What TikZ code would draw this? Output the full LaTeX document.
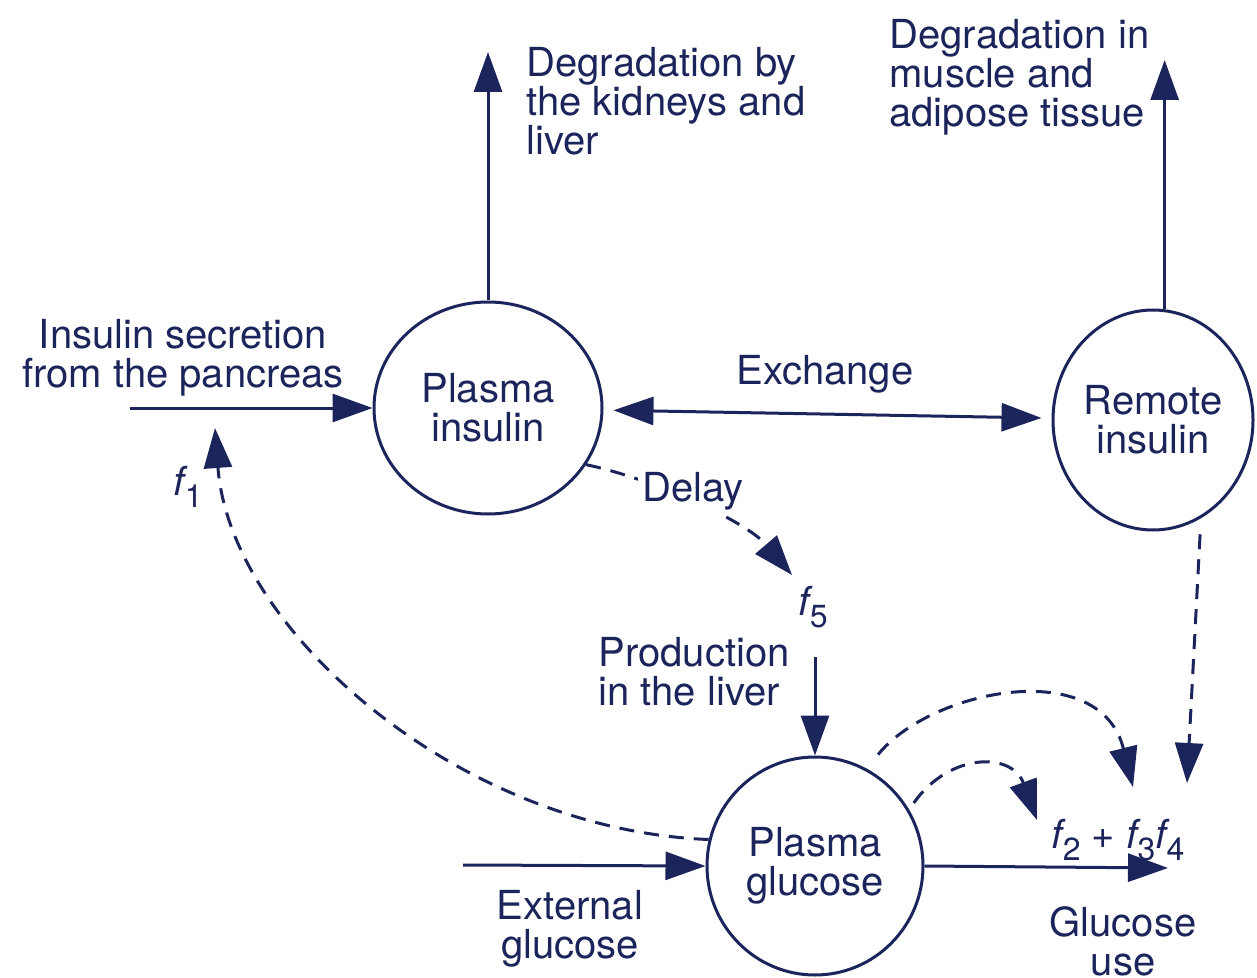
\documentclass[tikz,border=0pt]{standalone}
\usepackage{fontspec}
\setmainfont{TeX Gyre Heros}
\usetikzlibrary{arrows.meta,shapes.geometric}
\definecolor{ink}{RGB}{28,36,92}
\newcommand{\fsub}[1]{\textit{f}\kern-0.08em\raisebox{-0.3em}{\fontsize{16}{16}\selectfont #1}}

\begin{document}
\begin{tikzpicture}[x=0.5pt, y=-0.5pt, color=ink, line width=1.5pt, >={Triangle[length=20pt,width=14pt]},
	font=\fontsize{20}{19.5}\selectfont,
	pool/.style={shape=ellipse, draw, inner sep=0, align=center},
	lbl/.style={inner sep=0, align=left},
	feedback/.style={dash pattern=on 7.5pt off 5pt, ->}]
	\useasboundingbox (0,0) rectangle (1257,978);
	% compartments
	\node[pool, minimum width=114pt, minimum height=106pt] (pins) at (488,408) {Plasma\\insulin};
	\node[pool, minimum width=100pt, minimum height=110pt] (rem) at (1153,420) {Remote\\insulin};
	\node[pool, minimum width=108pt, minimum height=109pt] (pglu) at (815,866) {Plasma\\glucose};
	% labels
	\node[lbl, anchor=north west] (degkid) at (525,46) {Degradation by\\the kidneys and\\liver};
	\node[lbl, anchor=north west] (degmus) at (888,18) {Degradation in\\muscle and\\adipose tissue};
	\node[lbl, anchor=north, align=center] (secr) at (183,318) {Insulin secretion\\from the pancreas};
	\node[lbl] (exch) at (825,374) {Exchange};
	\node[lbl, anchor=north west] (prod) at (597,636) {Production\\in the liver};
	\node[lbl, anchor=north, align=center] (ext) at (570,889) {External\\glucose};
	\node[lbl, anchor=north, align=center] (use) at (1123,905) {Glucose\\use};
	\node[lbl] (f1) at (188,487) {\fsub{1}};
	\node[lbl] (f5) at (813,607) {\fsub{5}};
	\node[lbl] (f234) at (1118,840) {\fsub{2} + \fsub{3}\fsub{4}};
	% free ends
	\coordinate (kidtip) at (488,52);
	\coordinate (mustip) at (1163,60);
	\coordinate (secrin) at (130,408);
	\coordinate (f1tip) at (215,428);
	\coordinate (f5tip) at (792,575);
	\coordinate (prodin) at (815,657);
	\coordinate (extin) at (463,865);
	\coordinate (usetip) at (1168,868);
	\coordinate (f2tip) at (1037,820);
	\coordinate (f3tip) at (1133,787);
	\coordinate (f4tip) at (1187,783);
	% flows
	\draw[->] (pins.north) -- (kidtip);
	\draw[->] (rem.84) -- (rem.84 |- mustip);
	\draw[->] (secrin) -- (pins.west);
	\draw[<->, shorten <=5pt, shorten >=5pt] (pins) -- (rem);
	\draw[->] (prodin) -- (pglu.north);
	\draw[->] (extin) -- (pglu.west);
	\draw[->] (pglu.east) -- (usetip);
	% control signals
	\draw[feedback] (pglu.166) .. controls (460,830) and (230,630) .. (f1tip);
	\draw[feedback] (pins.-30) .. controls (650,478) and (745,520) .. (f5tip);
	\node[lbl, fill=white, inner sep=2pt] (delay) at (693,491) {Delay};
	\draw[feedback, shorten <=4pt] (pglu.31) .. controls (950,752) and (1012,752) .. (f2tip);
	\draw[feedback, shorten <=9pt] (pglu.62) .. controls (930,690) and (1100,655) .. (f3tip);
	\draw[feedback, shorten <=8pt] (rem.-64) -- (f4tip);
\end{tikzpicture}
\end{document}
